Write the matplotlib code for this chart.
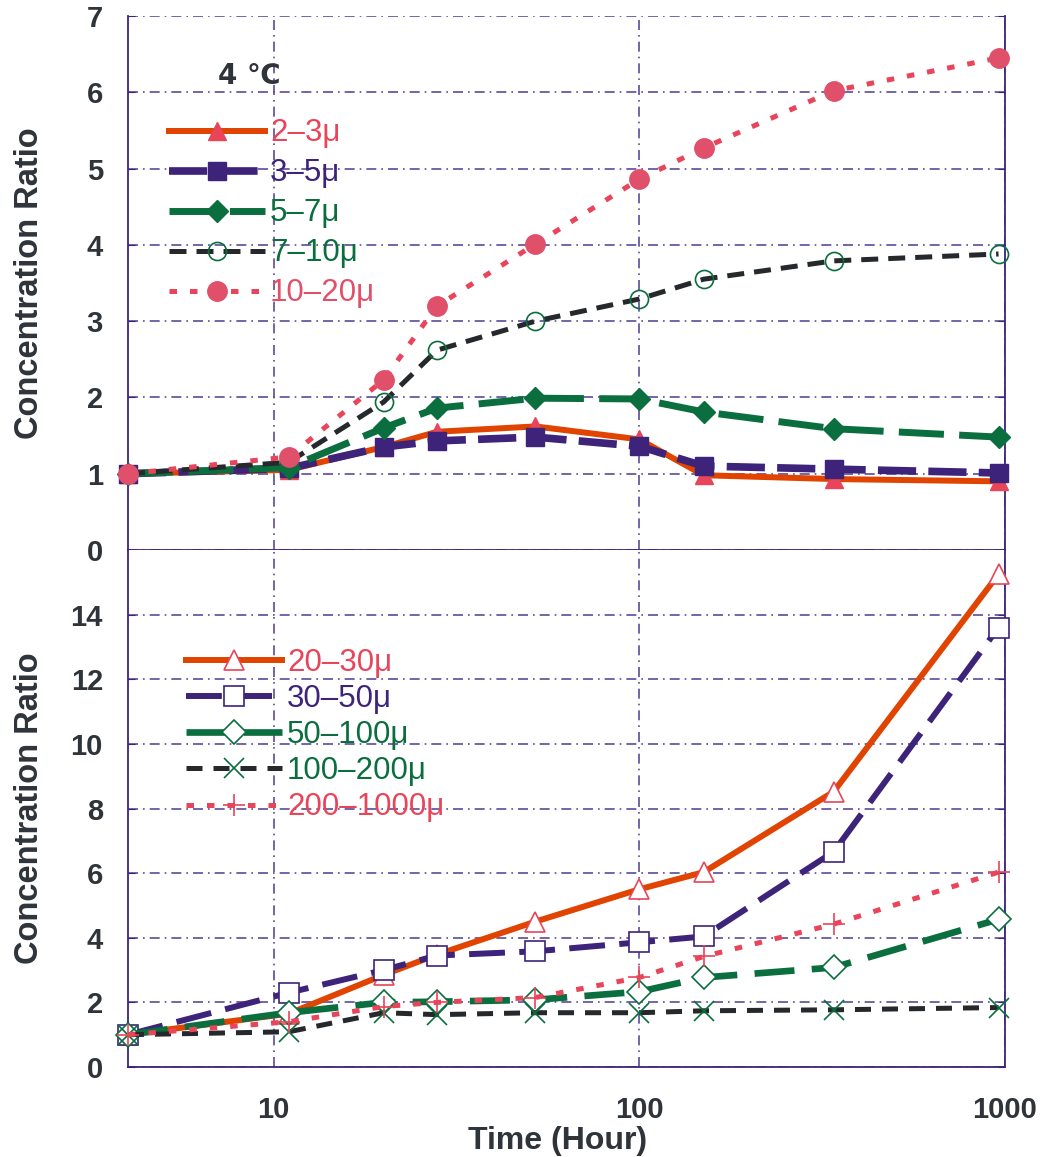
import numpy as np
import matplotlib.pyplot as plt
from matplotlib.lines import Line2D

# sampling times (hours)
hours = [4, 11, 20, 28, 52, 100, 150, 340, 960]

# 4 C, small particle classes
small_labels = ["2\u20133\u03bc", "3\u20135\u03bc", "5\u20137\u03bc", "7\u201310\u03bc", "10\u201320\u03bc"]
r_2_3 = [1.0, 1.05, 1.35, 1.55, 1.62, 1.45, 0.98, 0.93, 0.90]
r_3_5 = [1.0, 1.07, 1.35, 1.43, 1.48, 1.36, 1.10, 1.06, 1.01]
r_5_7 = [1.0, 1.08, 1.60, 1.86, 1.99, 1.98, 1.81, 1.59, 1.48]
r_7_10 = [1.0, 1.15, 1.94, 2.62, 3.00, 3.29, 3.55, 3.79, 3.88]
r_10_20 = [1.0, 1.22, 2.23, 3.20, 4.01, 4.86, 5.27, 6.02, 6.45]

# large particle classes
large_labels = ["20\u201330\u03bc", "30\u201350\u03bc", "50\u2013100\u03bc", "100\u2013200\u03bc", "200\u20131000\u03bc"]
r_20_30 = [1.0, 1.65, 2.85, 3.48, 4.50, 5.50, 6.03, 8.52, 15.25]
r_30_50 = [1.0, 2.30, 3.00, 3.45, 3.58, 3.86, 4.04, 6.66, 13.6]
r_50_100 = [1.0, 1.68, 2.00, 2.02, 2.08, 2.33, 2.77, 3.08, 4.57]
r_100_200 = [1.0, 1.09, 1.68, 1.62, 1.68, 1.68, 1.74, 1.77, 1.84]
r_200_1000 = [1.0, 1.40, 1.87, 2.00, 2.15, 2.77, 3.42, 4.42, 6.03]

ORANGE = "#e04400"
PURPLE = "#3d2379"
GREEN = "#0b6e3e"
BLACK = "#25292b"
RED = "#e8445a"
PINK = "#e0506a"
GRID = "#5a4c9c"
TXT = "#2e3439"

plt.rcParams["font.family"] = ["Liberation Sans", "DejaVu Sans"]

fig = plt.figure(figsize=(10.45, 11.57), dpi=100)
L, R = 128 / 1045, 1005 / 1045
y_top, y_mid, y_bot = 1 - 16 / 1157, 1 - 550 / 1157, 1 - 1067 / 1157
ax1 = fig.add_axes([L, y_mid, R - L, y_top - y_mid])
ax2 = fig.add_axes([L, y_bot, R - L, y_mid - y_bot], sharex=ax1)

small_styles = [
    dict(color=ORANGE, lw=4.3, ls="-", marker="^", ms=13, mfc=RED, mec=RED),
    dict(color=PURPLE, lw=5.5, ls=(0, (5, 1.6)), marker="s", ms=13, mfc=PURPLE, mec=PURPLE),
    dict(color=GREEN, lw=5.0, ls=(0, (6.5, 2.2)), marker="D", ms=11, mfc=GREEN, mec=GREEN),
    dict(color=BLACK, lw=3.6, ls=(0, (3.4, 2.0)), marker="o", ms=13, mfc="none", mec=GREEN, mew=1.2),
    dict(color=RED, lw=3.6, ls=(0, (1.5, 2.6)), marker="o", ms=14, mfc=PINK, mec=PINK),
]
large_styles = [
    dict(color=ORANGE, lw=4.3, ls="-", marker="^", ms=14, mfc="white", mec=RED, mew=1.2),
    dict(color=PURPLE, lw=4.3, ls=(0, (6, 2.4)), marker="s", ms=14, mfc="white", mec=PURPLE, mew=1.2),
    dict(color=GREEN, lw=4.8, ls=(0, (6, 2.6)), marker="D", ms=12, mfc="white", mec=GREEN, mew=1.2),
    dict(color=BLACK, lw=3.6, ls=(0, (3.2, 2.2)), marker="x", ms=14, mec=GREEN, mew=1.2),
    dict(color=RED, lw=3.6, ls=(0, (1.5, 2.6)), marker="+", ms=16, mec=RED, mew=1.2),
]
text_cols_small = [RED, PURPLE, GREEN, GREEN, PINK]
text_cols_large = [RED, PURPLE, GREEN, GREEN, RED]

small = [r_2_3, r_3_5, r_5_7, r_7_10, r_10_20]
large = [r_20_30, r_30_50, r_50_100, r_100_200, r_200_1000]

for vals, st in zip(small, small_styles):
    ax1.plot(hours, vals, zorder=3, clip_on=False, **st)
for vals, st in zip(large, large_styles):
    ax2.plot(hours, vals, zorder=3, clip_on=False, **st)

ax1.set_xscale("log")
ax1.set_xlim(4, 1000)
ax1.set_ylim(0, 7)
ax2.set_ylim(0, 16)
ax1.set_yticks(range(0, 8))
ax2.set_yticks(range(0, 15, 2))
ax2.set_xticks([10, 100, 1000])
ax2.set_xticklabels(["10", "100", "1000"])
ax2.xaxis.set_minor_locator(plt.NullLocator())
ax1.tick_params(axis="x", which="both", labelbottom=False, length=0)

for ax in (ax1, ax2):
    for s in ax.spines.values():
        s.set_color(PURPLE)
        s.set_linewidth(1.3)
    ax.grid(True, which="major", color=GRID, ls=(0, (6, 3, 1, 3)), lw=1.2)
    ax.set_axisbelow(True)
    ax.tick_params(axis="y", direction="in", length=5, color=PURPLE, right=True,
                   labelsize=21, labelcolor=TXT, pad=18)
    for lab in ax.get_yticklabels():
        lab.set_fontweight("bold")
ax1.spines["top"].set_visible(False)
ax2.spines["top"].set_visible(False)
ax2.tick_params(axis="x", which="both", length=0, labelsize=21, labelcolor=TXT, pad=21)
for lab in ax2.get_xticklabels():
    lab.set_fontweight("bold")
ax2.xaxis.grid(True, color=GRID, ls=(0, (6, 3, 1, 3)), lw=1.2)

# axis titles
for yc in (283, 808):
    fig.text(30 / 1045, 1 - yc / 1157, "Concentration Ratio", rotation=90, ha="center",
             va="center", fontsize=23.5, fontweight="bold", color=TXT)
fig.text(558 / 1045, 1 - 1141 / 1157, "Time (Hour)", ha="center", va="center",
         fontsize=23, fontweight="bold", color=TXT)

# legends
def make_handles(styles):
    return [Line2D([], [], **st) for st in styles]

ax1.legend(make_handles(small_styles), small_labels, loc="upper left",
           bbox_to_anchor=(28 / 877, 1 - 90 / 534), frameon=False, numpoints=1,
           handlelength=3.1, handletextpad=0.15, labelspacing=0.32, fontsize=22.5,
           labelcolor=text_cols_small, borderaxespad=0)
ax1.text(0.103, 1 - 60 / 534, "4 \u2103", transform=ax1.transAxes, fontsize=20,
         fontweight="bold", color=TXT, va="center", family=["DejaVu Sans"])

ax2.legend(make_handles(large_styles), large_labels, loc="upper left",
           bbox_to_anchor=(45 / 877, 1 - 85 / 517), frameon=False, numpoints=1,
           handlelength=3.1, handletextpad=0.15, labelspacing=0.2, fontsize=22.5,
           labelcolor=text_cols_large, borderaxespad=0)

fig.savefig("out.png", dpi=100)
